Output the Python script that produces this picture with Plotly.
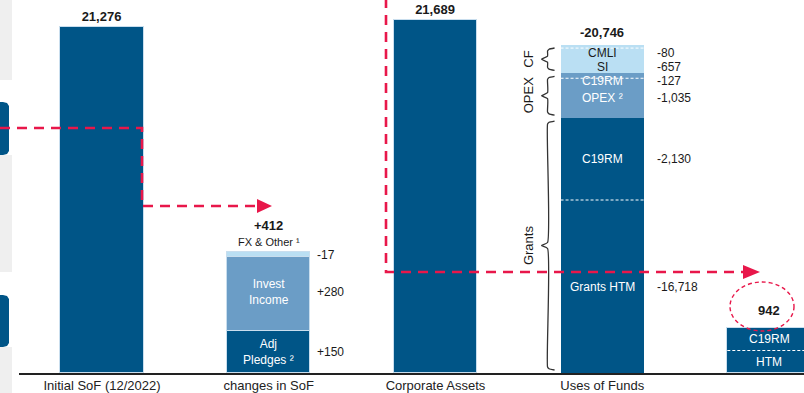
import plotly.graph_objects as go

# ---------------- data ----------------
categories = ["Initial SoF (12/2022)", "changes in SoF", "Corporate Assets",
              "Uses of Funds", "ALM balance"]

initial_sof = 21276
corporate_assets = 21689

change_names = ["Adj<br>Pledges ²", "Invest<br>Income", "FX & Other ¹"]
change_values = [150, 280, -17]
change_total = 412

# uses of funds, listed from the bottom of the stack upwards
uses_names = ["Grants HTM", "C19RM", "OPEX ²", "C19RM", "SI", "CMLI"]
uses_values = [-16718, -2130, -1035, -127, -657, -80]
uses_groups = ["Grants", "Grants", "OPEX", "OPEX", "CF", "CF"]
uses_total = -20746

alm_balance = 942
alm_parts = ["HTM", "C19RM"]

# ---------------- style / layout ----------------
DARK, MID, LIGHT = "#005587", "#6b9dc6", "#badff3"
EDGE = "#c9deee"
RED = "#e8174a"
INK = "#1a1a1a"
GREY = "#efefef"
FONT = "Liberation Sans, Arial, sans-serif"

W, H = 804, 393
PLOT_H = 373          # plot area height; the rest is the category label strip
STEP = 166.75         # px between column centres
FIRST = 102           # px centre of the first column
X_LEFT = 19           # px where the baseline starts
BAR_W = 0.5

group_color = {"Grants": DARK, "OPEX": MID, "CF": LIGHT}
change_colors = [DARK, MID, LIGHT]

# each column has its own (hidden) value scale
Y_MAIN = [0, 22926]
Y_CHG = [0, 1330]
Y_USE = [12221, 21917]   # broken scale: zoomed on the top of the stack
Y_ALM = [0, 7808]

col = {c: i for i, c in enumerate(categories)}
fig = go.Figure()


def upp(rng):
    """axis units per pixel"""
    return (rng[1] - rng[0]) / PLOT_H


def add_bar(x, y, base, axis, color, edge=True):
    fig.add_trace(go.Bar(
        x=[x], y=[y], base=[base], yaxis=axis, width=BAR_W,
        marker=dict(color=color, line=dict(color=EDGE, width=1 if edge else 0)),
        hoverinfo="skip", showlegend=False))


def label(x, y, text, yref, color=INK, size=12, bold=False, **kw):
    if bold:
        text = f"<b>{text}</b>"
    fig.add_annotation(x=x, y=y, xref="x", yref=yref, text=text, showarrow=False,
                       font=dict(family=FONT, size=size, color=color), **kw)


# ---- totals on the main scale ----
fig.add_trace(go.Bar(
    x=[col["Initial SoF (12/2022)"], col["Corporate Assets"]],
    y=[initial_sof, corporate_assets], width=BAR_W,
    marker=dict(color=DARK, line=dict(color=EDGE, width=1)),
    text=[f"<b>{v:,}</b>" for v in (initial_sof, corporate_assets)],
    textposition="outside", textfont=dict(family=FONT, size=13, color=INK),
    cliponaxis=False, hoverinfo="skip", showlegend=False))

# ---- changes in SoF (waterfall steps) ----
xc = col["changes in SoF"]
acc = 0
tops = []
for name, v, c in zip(change_names, change_values, change_colors):
    add_bar(xc, v, acc, "y2", c)
    mid = acc + v / 2
    tops.append(max(acc, acc + v))
    txt_col = INK if c == LIGHT else "white"
    if abs(v) / upp(Y_CHG) > 24:
        label(xc, mid, name, "y2", color=txt_col)
    else:
        label(xc, max(acc, acc + v), name, "y2", size=11, yshift=10)
    label(xc + BAR_W / 2, mid, f"{v:+,}", "y2", xanchor="left", xshift=5)
    acc += v
label(xc, max(tops), f"{change_total:+,}", "y2", size=13, bold=True, yshift=27)

# ---- uses of funds (stacked, top part zoomed) ----
xu = col["Uses of Funds"]
u = upp(Y_USE)
mags = [-v for v in uses_values]
bases = []
acc = 0
for m in mags:
    bases.append(acc)
    acc += m
stack_top = acc

for name, m, b, g in zip(uses_names, mags, bases, uses_groups):
    add_bar(xu, m, b, "y3", group_color[g], edge=False)

# dashed separators between segments of the same colour
for i in range(1, len(mags)):
    if uses_groups[i] == uses_groups[i - 1]:
        fig.add_shape(type="line", xref="x", yref="y3",
                      x0=xu - BAR_W / 2, x1=xu + BAR_W / 2, y0=bases[i], y1=bases[i],
                      line=dict(color="white", width=1, dash="3px,2px"))

# label positions: segment centre, kept inside the colour block and apart
pos = []
for m, b in zip(mags, bases):
    lo = max(b, Y_USE[0])
    pos.append((lo + b + m) / 2)
blocks = {}
for i, g in enumerate(uses_groups):
    blocks.setdefault(g, []).append(i)
for g, ids in blocks.items():
    lo = max(bases[ids[0]], Y_USE[0]) + 8 * u
    hi = bases[ids[-1]] + mags[ids[-1]] - 8 * u
    for i in ids:
        pos[i] = min(max(pos[i], lo), hi)
    for j in range(len(ids) - 2, -1, -1):           # top-down spacing
        a, bnext = ids[j], ids[j + 1]
        pos[a] = min(pos[a], pos[bnext] - 14 * u)

for i, (name, v, g) in enumerate(zip(uses_names, uses_values, uses_groups)):
    txt_col = INK if group_color[g] == LIGHT else "white"
    label(xu, pos[i], name, "y3", color=txt_col)
    label(xu + BAR_W / 2, pos[i], f"{v:,}", "y3", xanchor="left", xshift=11)
label(xu, stack_top, f"{uses_total:,}", "y3", size=13, bold=True, yshift=13)

# braces grouping the uses
brace_x = xu - BAR_W / 2 - 13 / STEP
hook, tip = 7 / STEP, 6 / STEP
for g, ids in blocks.items():
    y0 = max(bases[ids[0]], Y_USE[0]) + 3 * u
    y1 = bases[ids[-1]] + mags[ids[-1]] - 3 * u
    ym = (y0 + y1) / 2
    r = 3 * u
    xs = [brace_x + hook, brace_x + 1.5 / STEP, brace_x, brace_x, brace_x - tip,
          brace_x, brace_x, brace_x + 1.5 / STEP, brace_x + hook]
    ys = [y0, y0 + 0.4 * r, y0 + r, ym - r, ym, ym + r, y1 - r, y1 - 0.4 * r, y1]
    fig.add_trace(go.Scatter(x=xs, y=ys, yaxis="y3", mode="lines",
                             line=dict(color="#333333", width=1.3, shape="spline", smoothing=0.5),
                             hoverinfo="skip", showlegend=False))
    label(brace_x - 19 / STEP, ym, g, "y3", size=13, textangle=-90)

# ---- ALM balance ----
xa = col["ALM balance"]
add_bar(xa, alm_balance, 0, "y4", DARK)
fig.add_shape(type="line", xref="x", yref="y4",
              x0=xa - BAR_W / 2, x1=xa + BAR_W / 2, y0=alm_balance / 2, y1=alm_balance / 2,
              line=dict(color="white", width=1, dash="3px,2px"))
for k, part in enumerate(alm_parts):
    label(xa, alm_balance * (k + 0.5) / len(alm_parts), part, "y4", color="white")
label(xa, alm_balance, f"{alm_balance:,}", "y4", size=13, bold=True, yshift=18)
fig.add_shape(type="circle", xref="x", yref="y4", xsizemode="pixel", ysizemode="pixel",
              xanchor=xa - 7 / STEP, yanchor=alm_balance, x0=-32, x1=32, y0=-3, y1=46,
              line=dict(color=RED, width=1.4, dash="4px,3px"))


# ---------------- decorations in pixel space ----------------
def P(px, py):
    return px / W, (PLOT_H - py) / PLOT_H


def path(points, close=False):
    s = "M " + " L ".join(f"{P(x, y)[0]:.5f},{P(x, y)[1]:.5f}" for x, y in points)
    return s + (" Z" if close else "")


# side panel on the left edge
for y0, y1 in [(0, 80), (155, 272), (347, 393)]:
    x0, yy0 = P(0, y1)
    x1, yy1 = P(12, y0)
    fig.add_shape(type="rect", xref="paper", yref="paper", x0=x0, x1=x1, y0=yy0, y1=yy1,
                  fillcolor=GREY, line_width=0, layer="below")
for y0, y1 in [(102, 155), (295, 347)]:
    pts = [(-6, y0), (3, y0), (7, y0 + 1), (9, y0 + 4), (9, y1 - 4), (7, y1 - 1), (3, y1), (-6, y1)]
    fig.add_shape(type="path", xref="paper", yref="paper", path=path(pts, True),
                  fillcolor=DARK, line_width=0)

# red dashed connectors with arrow heads
dash = dict(color=RED, width=2.6, dash="10px,7px")
fig.add_shape(type="path", xref="paper", yref="paper",
              path=path([(0, 128), (142, 128), (142, 206), (258, 206)]), line=dash)
fig.add_shape(type="path", xref="paper", yref="paper",
              path=path([(257, 199), (272, 206), (257, 213)], True), fillcolor=RED, line_width=0)
fig.add_shape(type="path", xref="paper", yref="paper",
              path=path([(386, -2), (386, 272), (744, 272)]), line=dash)
fig.add_shape(type="path", xref="paper", yref="paper",
              path=path([(743, 265), (760, 272), (743, 279)], True), fillcolor=RED, line_width=0)

# ---------------- axes ----------------
hidden = dict(visible=False, fixedrange=True)
fig.update_layout(
    width=W, height=H,
    margin=dict(l=0, r=0, t=0, b=H - PLOT_H, pad=0),
    paper_bgcolor="white", plot_bgcolor="white",
    barmode="overlay", bargap=0,
    font=dict(family=FONT, color=INK),
    xaxis=dict(domain=[X_LEFT / W, 1],
               range=[(X_LEFT - FIRST) / STEP, (W - FIRST) / STEP],
               tickvals=list(range(len(categories))), ticktext=categories,
               tickfont=dict(family=FONT, size=13, color="#222222"),
               showline=True, linecolor="#222222", linewidth=1.5,
               showgrid=False, zeroline=False, ticks="", fixedrange=True),
    yaxis=dict(range=Y_MAIN, **hidden),
    yaxis2=dict(range=Y_CHG, overlaying="y", **hidden),
    yaxis3=dict(range=Y_USE, overlaying="y", **hidden),
    yaxis4=dict(range=Y_ALM, overlaying="y", **hidden),
)

fig.write_html("out.html")
